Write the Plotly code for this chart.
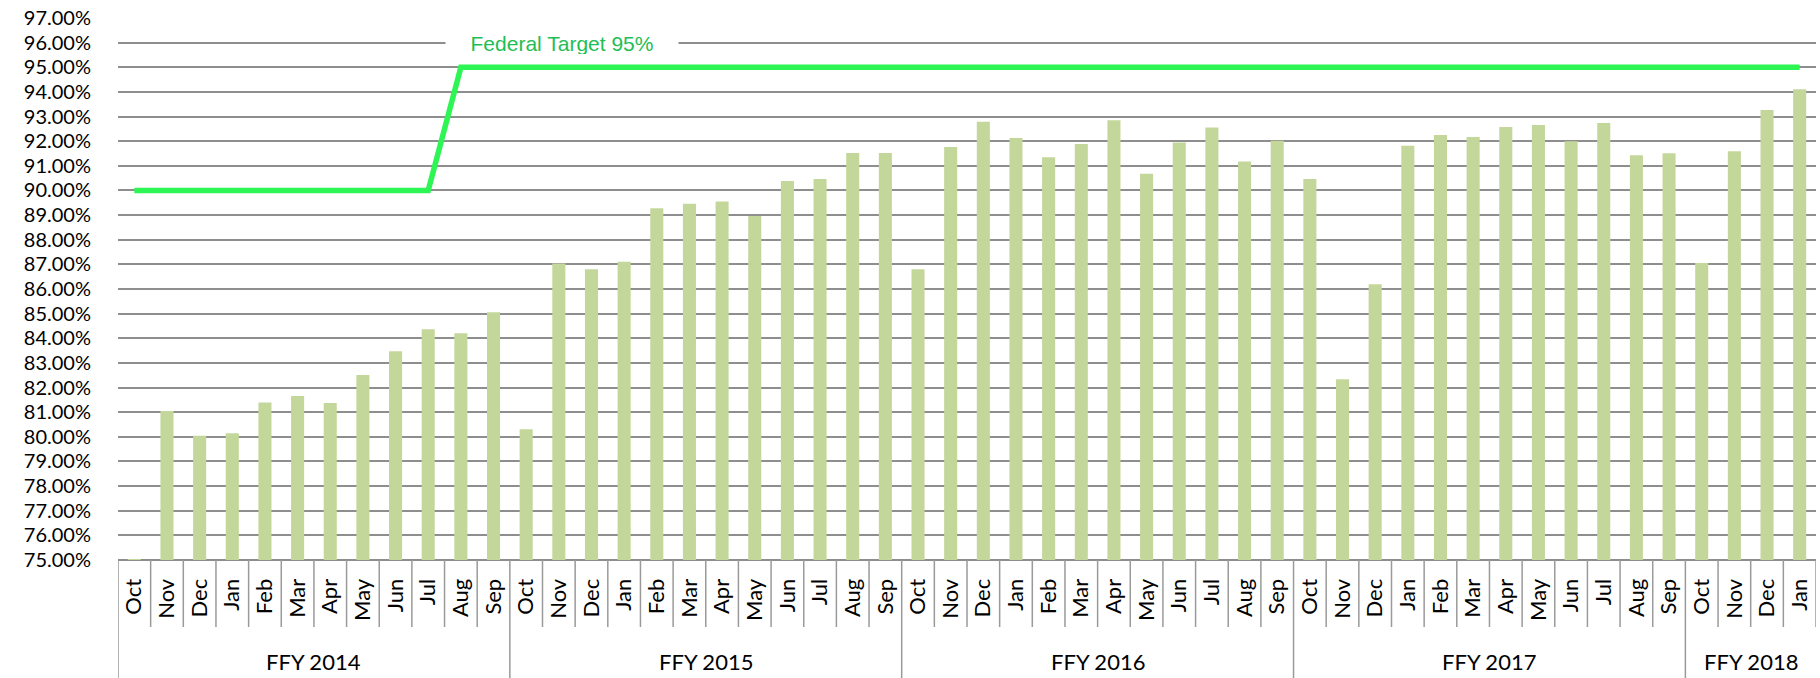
import plotly.graph_objects as go

# ---------------- data ----------------
months = (["Oct", "Nov", "Dec", "Jan", "Feb", "Mar", "Apr", "May", "Jun", "Jul", "Aug", "Sep"] * 4
          + ["Oct", "Nov", "Dec", "Jan"])
fiscal_years = ["FFY 2014", "FFY 2015", "FFY 2016", "FFY 2017", "FFY 2018"]
months_per_year = [12, 12, 12, 12, 4]

rate_2014 = [75.04, 81.05, 80.04, 80.14, 81.39, 81.66, 81.37, 82.51, 83.47, 84.37, 84.20, 85.06]
rate_2015 = [80.31, 87.04, 86.80, 87.11, 89.28, 89.46, 89.55, 88.96, 90.38, 90.47, 91.52, 91.52]
rate_2016 = [86.80, 91.76, 92.79, 92.13, 91.35, 91.89, 92.85, 90.68, 91.95, 92.56, 91.18, 92.02]
rate_2017 = [90.47, 82.34, 86.19, 91.81, 92.25, 92.17, 92.58, 92.66, 92.00, 92.74, 91.43, 91.51]
rate_2018 = [87.06, 91.59, 93.27, 94.11]
rates = rate_2014 + rate_2015 + rate_2016 + rate_2017 + rate_2018

federal_target = [90] * 10 + [95] * 42
target_label = "Federal Target 95%"

y_ticks = list(range(75, 98))
# --------------------------------------

idx = list(range(len(months)))

BAR = "#C4D79B"
TARGET = "#2DF553"
TEXTGREEN = "#1EBE55"
GRID = "#8E8E8E"
SEP = "#9A9A9A"
FONT = "Lato"

fig = go.Figure()
fig.add_trace(go.Bar(x=idx, y=rates, width=0.4,
                     marker=dict(color=BAR, line=dict(width=0)),
                     showlegend=False, hoverinfo="skip"))
fig.add_trace(go.Scatter(x=idx, y=federal_target, mode="lines",
                         line=dict(color=TARGET, width=5.5), showlegend=False, hoverinfo="skip"))

# separators below the axis (month boundaries; fiscal-year boundaries run to the bottom)
bounds = [0]
for n in months_per_year:
    bounds.append(bounds[-1] + n)
year_bounds = set(bounds[:-1])
shapes = []
M_BOTTOM = (560 - 627) / 542.0
Y_BOTTOM = (560 - 678) / 542.0
for b in range(len(months) + 1):
    y1 = Y_BOTTOM if b in year_bounds else M_BOTTOM
    shapes.append(dict(type="line", xref="x", yref="paper", x0=b - 0.5, x1=b - 0.5,
                       y0=0, y1=y1, line=dict(color=SEP, width=1.5)))
shapes.append(dict(type="line", xref="paper", yref="paper", x0=0, x1=1, y0=0, y1=0,
                   line=dict(color=GRID, width=2), layer="below"))

annotations = []
for k, fy in enumerate(fiscal_years):
    center = (bounds[k] + bounds[k + 1] - 1) / 2.0
    annotations.append(dict(x=center, y=(560 - 662) / 542.0, xref="x", yref="paper",
                            text=fy, showarrow=False,
                            font=dict(family=FONT, size=22, color="black"),
                            xanchor="center", yanchor="middle"))
annotations.append(dict(x=13.1, y=96, xref="x", yref="y", text=target_label, showarrow=False,
                        font=dict(family="Liberation Sans, Arial", size=21, color=TEXTGREEN),
                        bgcolor="white", width=230, height=22,
                        xanchor="center", yanchor="middle"))

fig.update_layout(
    width=1820, height=678,
    margin=dict(l=118, r=4, t=18, b=118),
    paper_bgcolor="white", plot_bgcolor="white",
    bargap=0.6,
    shapes=shapes, annotations=annotations,
    xaxis=dict(range=[-0.5, len(months) - 0.5], tickmode="array", tickvals=idx, ticktext=months,
               tickangle=-90, showgrid=False, zeroline=False, showline=False,
               ticks="outside", ticklen=9, tickcolor="rgba(0,0,0,0)",
               tickfont=dict(family=FONT, size=22, color="black")),
    yaxis=dict(range=[75, 97], tickmode="array", tickvals=y_ticks,
               ticktext=[f"{v:.2f}%" for v in y_ticks],
               showgrid=True, gridcolor=GRID, gridwidth=1.6, zeroline=False, showline=False,
               ticks="outside", ticklen=22, tickcolor="rgba(0,0,0,0)",
               tickfont=dict(family=FONT, size=20, color="black")),
)

fig.write_html("out.html", config={"displayModeBar": False},
               post_script="document.body.style.margin='0';document.body.style.overflow='hidden';")
